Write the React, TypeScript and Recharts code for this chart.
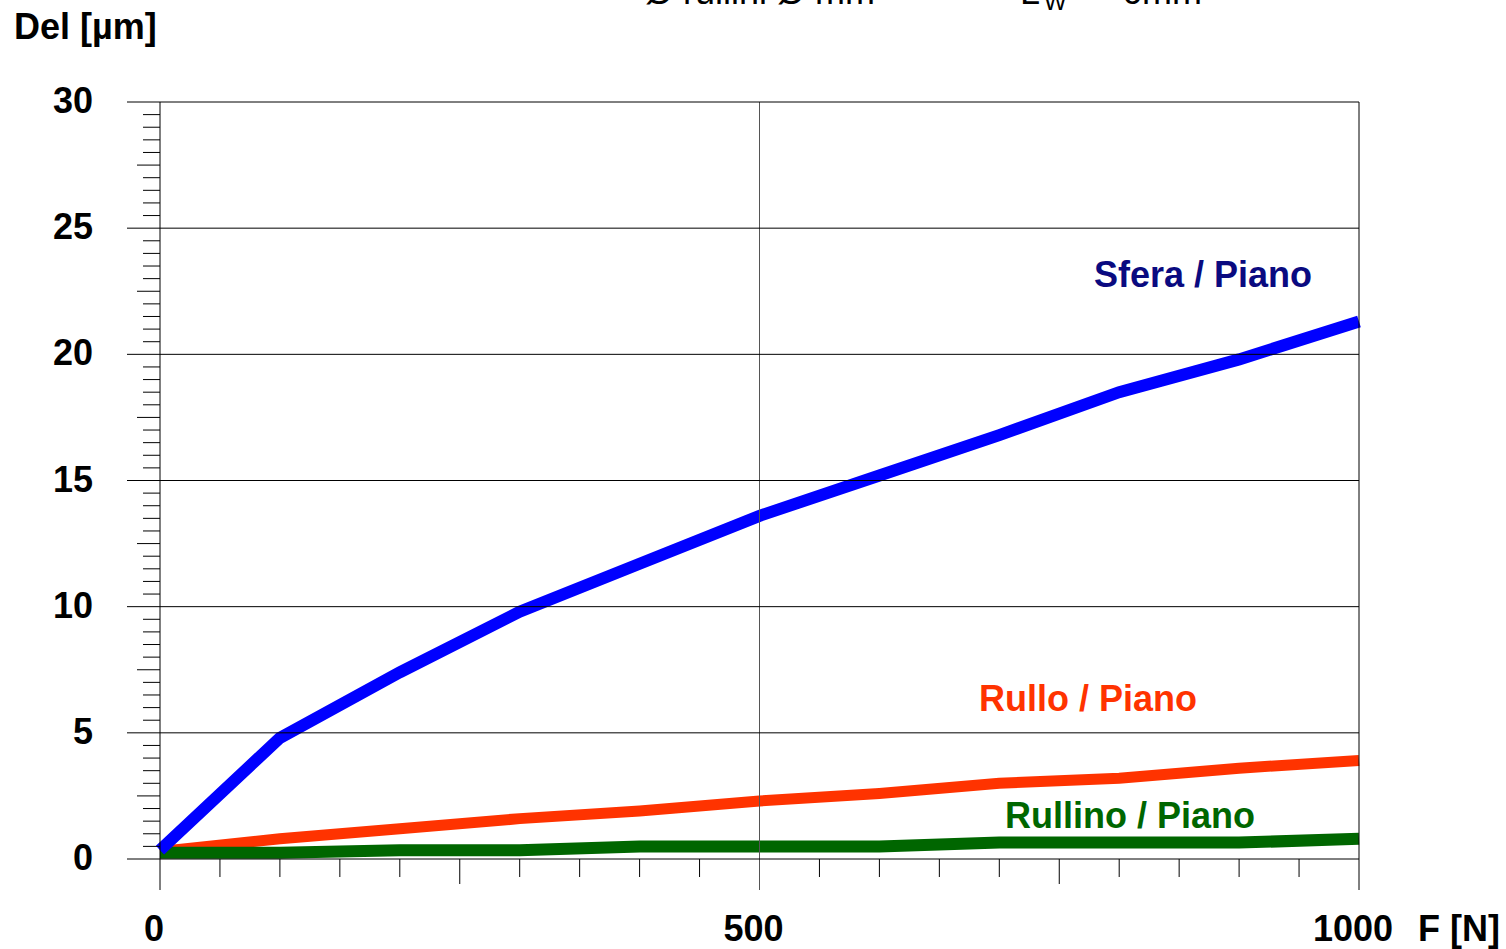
import React from 'react'
import { LineChart, Line, XAxis, YAxis, LabelList } from 'recharts'

const forces = [0, 100, 200, 300, 400, 500, 600, 700, 800, 900, 1000]
const sfera = [0.35, 4.8, 7.4, 9.8, 11.7, 13.6, 15.2, 16.8, 18.5, 19.8, 21.3]
const rullo = [0.3, 0.8, 1.2, 1.6, 1.9, 2.3, 2.6, 3.0, 3.2, 3.6, 3.9]
const rullino = [0.25, 0.25, 0.35, 0.35, 0.5, 0.5, 0.5, 0.65, 0.65, 0.65, 0.8]

const xTicks: number[] = []
for (let v = 0; v <= 1000; v += 50) xTicks.push(v)
const yTicks: number[] = []
for (let v = 0; v <= 60; v++) yTicks.push(v / 2)

const W = 1506
const H = 949
const PLOT_W = 1199
const PLOT_H = 757
const FONT = '"Liberation Sans", Arial, sans-serif'

const data = forces.map((f, i) => ({
  f,
  sfera: sfera[i],
  rullo: rullo[i],
  rullino: rullino[i],
}))

function YTick(props: any) {
  const { x, y, payload } = props
  const v = payload.value as number
  if (v % 5 === 0) {
    return (
      <g>
        <line x1={x - 33} x2={x + PLOT_W} y1={y} y2={y} stroke='#000' strokeWidth={1} />
        <text x={x - 67} y={y + 11} textAnchor='end' fontFamily={FONT} fontWeight='bold' fontSize={36} fill='#000'>
          {v}
        </text>
      </g>
    )
  }
  const len = v % 2.5 === 0 ? 23 : 17
  return <line x1={x - len} x2={x} y1={y} y2={y} stroke='#000' strokeWidth={1} />
}

function XTick(props: any) {
  const { x, y, payload } = props
  const v = payload.value as number
  if (v % 500 === 0) {
    return (
      <g>
        <line x1={x} x2={x} y1={y - PLOT_H} y2={y + 31} stroke={v === 500 ? '#555' : '#000'} strokeWidth={1} />
        <text x={x - 6} y={y + 82} textAnchor='middle' fontFamily={FONT} fontWeight='bold' fontSize={36} fill='#000'>
          {v}
        </text>
        {v === 1000 && (
          <text x={x + 59} y={y + 82} textAnchor='start' fontFamily={FONT} fontWeight='bold' fontSize={36} fill='#000'>
            F [N]
          </text>
        )}
      </g>
    )
  }
  const len = v % 250 === 0 ? 25 : 18
  return <line x1={x} x2={x} y1={y} y2={y + len} stroke='#000' strokeWidth={1} />
}

function endLabel(text: string, color: string, dx: number, dy: number) {
  return (props: any) => {
    const { x, y, index } = props
    if (index !== forces.length - 1) return null
    return (
      <text x={x + dx} y={y + dy + 12} textAnchor='end' fontFamily={FONT} fontWeight='bold' fontSize={36} fill={color}>
        {text}
      </text>
    )
  }
}

export default function App() {
  return (
    <div style={{ position: 'absolute', left: 0, top: 0, width: W, height: H, background: '#fff', overflow: 'hidden' }}>
      <svg style={{ position: 'absolute', left: 0, top: 0 }} width={W} height={H}>
        {/* header line is cut off at the top edge in the original */}
        <text x={645} y={4} fontFamily={FONT} fontSize={36} fill='#000'>
          Ø rullini   Ø mm
        </text>
        <text x={1020} y={4} fontFamily={FONT} fontSize={36} fill='#000'>
          L
        </text>
        <text x={1044} y={10} fontFamily={FONT} fontSize={24} fill='#000'>
          W
        </text>
        <text x={1122} y={4} fontFamily={FONT} fontSize={36} fill='#000'>
          6mm
        </text>
        <text x={14} y={39} fontFamily={FONT} fontWeight='bold' fontSize={36} fill='#000'>
          Del [µm]
        </text>
      </svg>
      <LineChart
        width={W}
        height={H}
        data={data}
        margin={{ top: 102, right: 147, bottom: 60, left: 100 }}
        style={{ position: 'absolute', left: 0, top: 0 }}
      >
        <XAxis
          dataKey='f'
          type='number'
          domain={[0, 1000]}
          ticks={xTicks}
          interval={0}
          height={30}
          axisLine={false}
          tickLine={false}
          tickSize={0}
          tickMargin={0}
          tick={<XTick />}
        />
        <YAxis
          type='number'
          domain={[0, 30]}
          ticks={yTicks}
          interval={0}
          width={60}
          axisLine={false}
          tickLine={false}
          tickSize={0}
          tickMargin={0}
          tick={<YTick />}
        />
        <Line dataKey='rullo' stroke='#ff3300' strokeWidth={11} dot={false} isAnimationActive={false} strokeLinejoin='miter'>
          <LabelList dataKey='rullo' content={endLabel('Rullo / Piano', '#ff3300', -162, -62)} />
        </Line>
        <Line dataKey='rullino' stroke='#006600' strokeWidth={12} dot={false} isAnimationActive={false} strokeLinejoin='miter'>
          <LabelList dataKey='rullino' content={endLabel('Rullino / Piano', '#006600', -104, -23)} />
        </Line>
        <Line dataKey='sfera' stroke='#0000ff' strokeWidth={12} dot={false} isAnimationActive={false} strokeLinejoin='miter'>
          <LabelList dataKey='sfera' content={endLabel('Sfera / Piano', '#0a0a80', -47, -47)} />
        </Line>
      </LineChart>
    </div>
  )
}
